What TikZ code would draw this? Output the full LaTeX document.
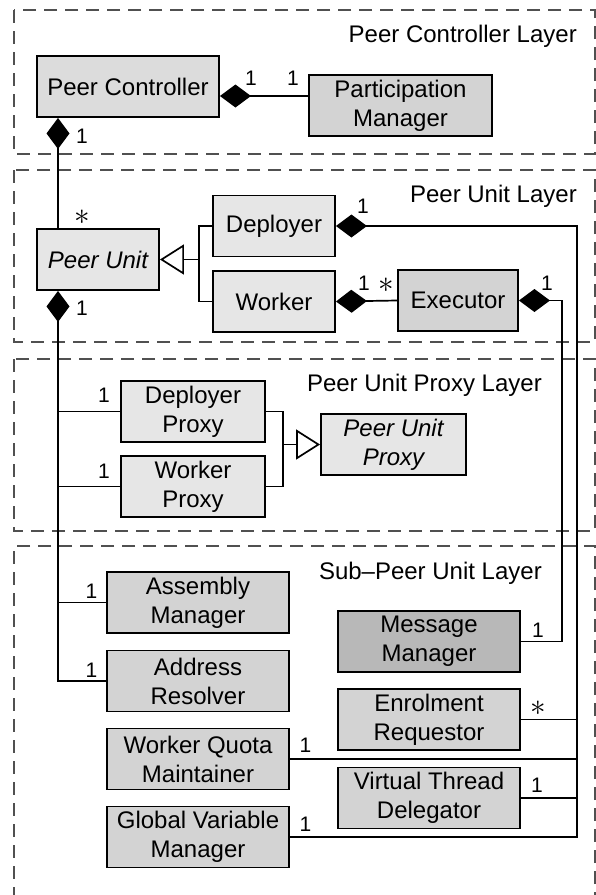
\documentclass[tikz,border=0pt]{standalone}
\usepackage{fontspec}
\usepackage{graphicx}
\setmainfont{Liberation Sans}
\usetikzlibrary{arrows.meta}
\definecolor{boxlight}{HTML}{E6E6E6}
\definecolor{boxmid}{HTML}{DCDCDC}
\definecolor{boxgray}{HTML}{D3D3D3}
\definecolor{boxdark}{HTML}{B8B8B8}
\definecolor{layerline}{HTML}{505050}
\newcommand{\many}{\scalebox{1.5}{$\ast$}}
\begin{document}
\begin{tikzpicture}[x=1pt,y=-1pt,
  cls/.style={draw=black, line width=1.9pt, minimum height=61pt, inner sep=0pt,
    align=center, font=\fontsize{24}{29}\selectfont},
  layer/.style={draw=layerline, line width=1.7pt, dash pattern=on 13pt off 8pt},
  layertitle/.style={anchor=base east, inner sep=0pt, font=\fontsize{24}{29}\selectfont},
  mult/.style={inner sep=0pt, font=\fontsize{21}{21}\selectfont},
  conn/.style={line width=1.7pt},
  comp/.style={conn, {Diamond[length={31pt 0 0},width={23pt 0 0},fill=black]}-},
  gen/.style={conn, -{Triangle[open,length={24pt 0 0},width={30pt 0 0},fill=white]}}
]
\useasboundingbox (0,0) rectangle (595,895);

% layer frames
\draw[layer] (14,10) rectangle (595,154);
\draw[layer] (14,170) rectangle (595,342);
\draw[layer] (14,359) rectangle (595,531);
\draw[layer] (595,905) -- (595,546) -- (14,546) -- (14,905);

\node[layertitle] (t1) at (577,42) {Peer Controller Layer};
\node[layertitle] (t2) at (577,202) {Peer Unit Layer};
\node[layertitle] (t3) at (542,391) {Peer Unit Proxy Layer};
\node[layertitle] (t4) at (542,579) {Sub–Peer Unit Layer};

% classes
\node[cls, fill=boxmid, minimum width=182pt] (pc) at (128,86.5) {Peer Controller};
\node[cls, fill=boxgray, minimum width=183pt] (pm) at (400.5,105.5) {Participation\\Manager};
\node[cls, fill=boxlight, minimum width=122pt, font=\fontsize{24}{29}\selectfont\itshape] (pu) at (98,259.5) {Peer Unit};
\node[cls, fill=boxlight, minimum width=122pt] (dep) at (274,226) {Deployer};
\node[cls, fill=boxlight, minimum width=122pt] (wrk) at (274,301.5) {Worker};
\node[cls, fill=boxgray, minimum width=120pt] (exe) at (458,300.5) {Executor};

\node[cls, fill=boxlight, minimum width=144pt] (dp) at (193,411.5) {Deployer\\Proxy};
\node[cls, fill=boxlight, minimum width=144pt] (wp) at (193,486.5) {Worker\\Proxy};
\node[cls, fill=boxlight, minimum width=145pt, font=\fontsize{24}{29}\selectfont\itshape] (pup) at (393.5,444.5) {Peer Unit\\Proxy};

\node[cls, fill=boxgray, minimum width=182pt] (am) at (198,602.5) {Assembly\\Manager};
\node[cls, fill=boxgray, minimum width=182pt] (ar) at (198,681) {Address\\Resolver};
\node[cls, fill=boxdark, minimum width=182pt] (mm) at (429,641.5) {Message\\Manager};
\node[cls, fill=boxgray, minimum width=182pt] (er) at (429,719.5) {Enrolment\\Requestor};
\node[cls, fill=boxgray, minimum width=182pt] (wqm) at (198,759) {Worker Quota\\Maintainer};
\node[cls, fill=boxgray, minimum width=182pt] (vtd) at (429,798) {Virtual Thread\\Delegator};
\node[cls, fill=boxgray, minimum width=182pt] (gvm) at (198,837) {Global Variable\\Manager};

% routing columns
\coordinate (trunk) at (58,0);
\coordinate (busA) at (562,0);
\coordinate (busB) at (577,0);
\coordinate (pcr) at ([yshift=-9.5pt]pc.east);
\coordinate (jn) at (199,259.5);
\coordinate (jp) at (283,444.5);

% Peer Controller compositions
\draw[comp] (pcr) -- (pcr -| pm.west);
\draw[comp] (trunk |- pc.south) -- (trunk |- pu.north);

% Peer Unit generalisation
\draw[conn] (dep.west) -| (jn) |- (wrk.west);
\draw[gen] (jn) -- (pu.east);

% Peer Unit trunk
\draw[comp] (trunk |- pu.south) -- (trunk |- ar.west) -- (ar.west);
\draw[conn] (trunk |- dp.west) -- (dp.west);
\draw[conn] (trunk |- wp.west) -- (wp.west);
\draw[conn] (trunk |- am.west) -- (am.west);

% proxy generalisation
\draw[conn] (dp.east) -| (jp) |- (wp.east);
\draw[gen] (jp) -- (pup.west);

% Worker / Executor
\draw[comp] (wrk.east) -- (exe.west);
\draw[comp] (exe.east) -- (busA |- exe.east) -- (busA |- mm.east) -- (mm.east);

% Deployer bus
\draw[comp] (dep.east) -- (busB |- dep.east) -- (busB |- gvm.east) -- (gvm.east);
\draw[conn] (er.east) -- (busB |- er.east);
\draw[conn] (wqm.east) -- (busB |- wqm.east);
\draw[conn] (vtd.east) -- (busB |- vtd.east);

% multiplicities
\node[mult] (m1) at (251,78) {1};
\node[mult] (m2) at (293,78) {1};
\node[mult] (m3) at (82,136) {1};
\node[mult] (m4) at (82,217) {\many};
\node[mult] (m5) at (82,308) {1};
\node[mult] (m6) at (363,206) {1};
\node[mult] (m7) at (364,283) {1};
\node[mult] (m8) at (386,285) {\many};
\node[mult] (m9) at (547,283) {1};
\node[mult] (m10) at (104,395) {1};
\node[mult] (m11) at (104,471.5) {1};
\node[mult] (m12) at (91.5,591) {1};
\node[mult] (m13) at (91.5,670) {1};
\node[mult] (m14) at (538,630) {1};
\node[mult] (m15) at (538,708) {\many};
\node[mult] (m16) at (305.5,745) {1};
\node[mult] (m17) at (537,785) {1};
\node[mult] (m18) at (305.5,824) {1};
\end{tikzpicture}
\end{document}
